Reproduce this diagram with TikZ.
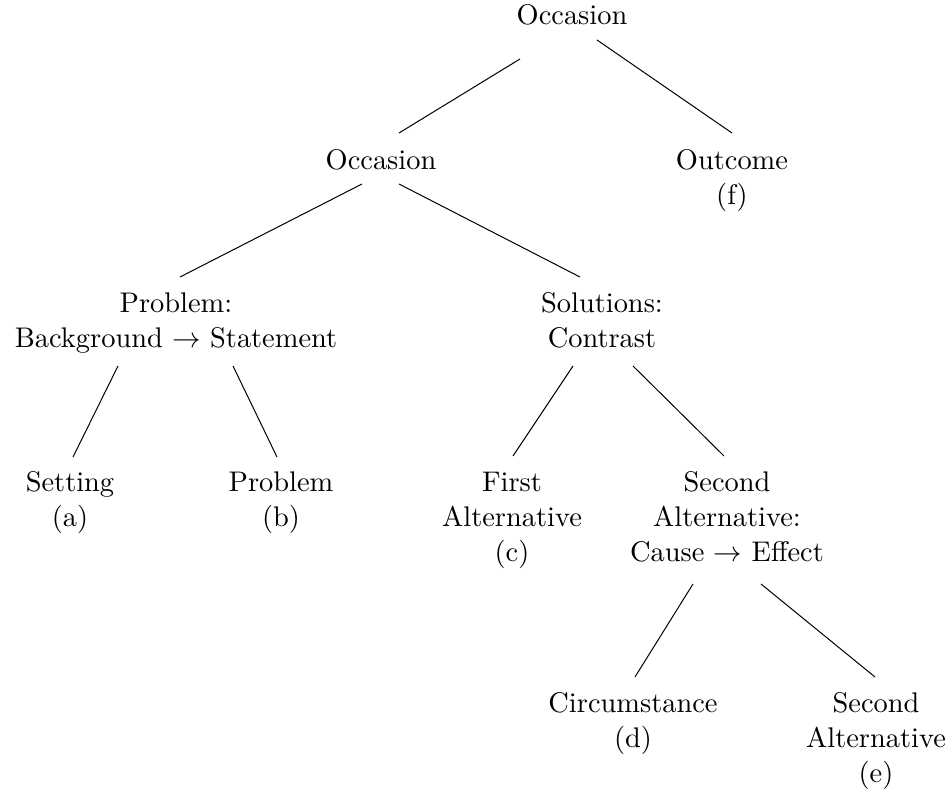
\documentclass[tikz,border=0pt]{standalone}
\usepackage{graphicx}
\newcommand{\mylines}[1]{\scalebox{1.42}{\begin{tabular}[t]{@{}c@{}}#1\end{tabular}}}
\tikzset{
  lbl/.style={anchor=base, inner sep=0pt, outer sep=0pt, font=\fontsize{10pt}{12.2pt}\selectfont},
  edge/.style={draw=black, line width=0.5pt}
}
\begin{document}
\begin{tikzpicture}[x=0.5pt,y=-0.5pt]
\useasboundingbox (0,0) rectangle (950,796);
\node[lbl] (top) at (572,25) {\mylines{Occasion}};
\node[lbl] (occ) at (381,170) {\mylines{Occasion}};
\node[lbl] (out) at (732,170) {\mylines{Outcome\\(f)}};
\node[lbl] (prob) at (176,313) {\mylines{Problem:\\Background $\rightarrow$ Statement}};
\node[lbl] (sol) at (602,313) {\mylines{Solutions:\\Contrast}};
\node[lbl] (set) at (70,492) {\mylines{Setting\\(a)}};
\node[lbl] (pb) at (281,492) {\mylines{Problem\\(b)}};
\node[lbl] (first) at (512,492) {\mylines{First\\Alternative\\(c)}};
\node[lbl] (second) at (727,492) {\mylines{Second\\Alternative:\\Cause $\rightarrow$ Effect}};
\node[lbl] (circ) at (633,713) {\mylines{Circumstance\\(d)}};
\node[lbl] (sec2) at (876,713) {\mylines{Second\\Alternative\\(e)}};

\draw[edge] ([shift={(-52,34)}]top.base) -- ([shift={(18,-37)}]occ.base);
\draw[edge] ([shift={(25,15)}]top.base) -- ([shift={(0,-37)}]out.base);
\draw[edge] ([shift={(-19,14)}]occ.base) -- ([shift={(4,-36)}]prob.base);
\draw[edge] ([shift={(18,14)}]occ.base) -- ([shift={(-22,-36)}]sol.base);
\draw[edge] ([shift={(-58,53)}]prob.base) -- ([shift={(3,-35)}]set.base);
\draw[edge] ([shift={(57,53)}]prob.base) -- ([shift={(-4,-35)}]pb.base);
\draw[edge] ([shift={(-29,53)}]sol.base) -- ([shift={(1,-36)}]first.base);
\draw[edge] ([shift={(31,53)}]sol.base) -- ([shift={(-3,-36)}]second.base);
\draw[edge] ([shift={(-34,92)}]second.base) -- ([shift={(2,-36)}]circ.base);
\draw[edge] ([shift={(34,92)}]second.base) -- ([shift={(-1,-36)}]sec2.base);
\end{tikzpicture}
\end{document}
